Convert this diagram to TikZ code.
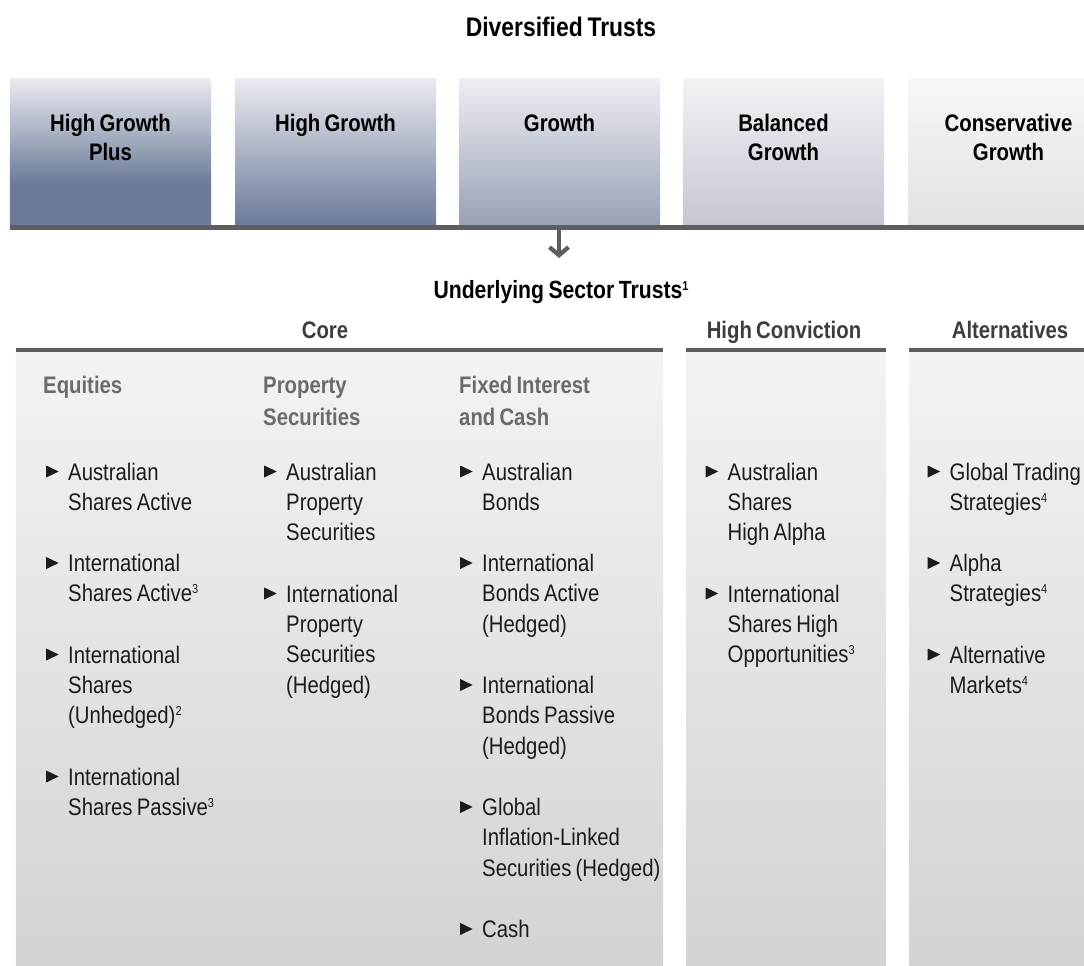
\documentclass[tikz,border=0pt]{standalone}
\usepackage{fontspec}
\setmainfont{Liberation Sans}[FakeStretch=0.85, WordSpace=0.75]
\usepackage{tikz}
\usetikzlibrary{arrows.meta}

\definecolor{slatedk}{HTML}{6B7B99}
\definecolor{slatelt}{HTML}{EBEBF0}
\definecolor{growthlo}{HTML}{98A1B6}
\definecolor{balancedlo}{HTML}{C4C7D2}
\definecolor{conslo}{HTML}{E1E2E6}
\definecolor{ledgegray}{HTML}{5E5E5E}
\definecolor{panelhi}{HTML}{F3F3F3}
\definecolor{panello}{HTML}{D3D3D3}
\definecolor{headgray}{HTML}{6B6B6B}
\definecolor{labelgray}{HTML}{3D3D3D}
\definecolor{itemink}{HTML}{1C1C1C}

\pgfdeclareverticalshading{plusshade}{100bp}{color(0bp)=(slatedk); color(39bp)=(slatedk); color(75bp)=(slatelt); color(100bp)=(slatelt)}

\newcommand{\itemmark}{\llap{\tikz[x=1bp,y=1bp,baseline=0pt]\fill[itemink] (0,2.5) -- (0,14.5) -- (12.5,8.5) -- cycle;\hspace{9.5bp}}}
\newcommand{\fnmark}[1]{\raisebox{8bp}{\fontsize{13}{13}\selectfont #1}}

\tikzset{
  trustbox/.style={rectangle, inner sep=0pt, minimum width=201bp, minimum height=147bp},
  trustlabel/.style={anchor=base, text width=200bp, align=flush center, inner sep=0pt, text=black, font=\bfseries\fontsize{24}{29.5}\selectfont},
  bigtitle/.style={anchor=base, inner sep=0pt, text=black, font=\bfseries\fontsize{27}{30}\selectfont},
  midtitle/.style={anchor=base, inner sep=0pt, text=black, font=\bfseries\fontsize{25}{30}\selectfont},
  sectorpanel/.style={rectangle, inner sep=0pt, minimum height=614bp, top color=panelhi, bottom color=panello},
  panelhead/.style={anchor=base, inner sep=0pt, text=labelgray, font=\bfseries\fontsize{24}{30}\selectfont},
  colhead/.style={anchor=base west, text width=200bp, align=flush left, inner sep=0pt, text=headgray, font=\bfseries\fontsize{24}{33}\selectfont},
  trustitem/.style={anchor=base west, text width=200bp, align=flush left, inner sep=0pt, text=itemink, font=\fontsize{24}{30.5}\selectfont},
  ledge/.style={fill=ledgegray},
  flow/.style={draw=ledgegray, line width=4.3bp, -{Straight Barb[length=8bp, width=19bp]}}
}

\begin{document}
\begin{tikzpicture}[x=1bp, y=-1bp]
\useasboundingbox (0,0) rectangle (1084,966);

\node[bigtitle] (div) at (561,36) {Diversified Trusts};

\node[trustbox, shading=plusshade] (hgp) at (110.5,151.5) {};
\node[trustbox, top color=slatelt, bottom color=slatedk] (hg) at (335.5,151.5) {};
\node[trustbox, top color=slatelt!80!white, bottom color=growthlo] (gr) at (559.5,151.5) {};
\node[trustbox, top color=slatelt!60!white, bottom color=balancedlo] (bg) at (783.5,151.5) {};
\node[trustbox, top color=slatelt!40!white, bottom color=conslo] (cg) at (1008.5,151.5) {};

\node[trustlabel] (hgpl) at (110.5,131) {High Growth\\Plus};
\node[trustlabel] (hgl) at (335.5,131) {High Growth};
\node[trustlabel] (grl) at (559.5,131) {Growth};
\node[trustlabel] (bgl) at (783.5,131) {Balanced\\Growth};
\node[trustlabel] (cgl) at (1008.5,131) {Conservative\\Growth};

\fill[ledge] (hgp.south west) rectangle ([yshift=-5bp]cg.south east);

\coordinate (drop) at (559,230);
\coordinate (landing) at (559,258);
\draw[flow] (drop) -- (landing);

\node[midtitle] (ust) at (561,298) {Underlying Sector Trusts\fnmark{1}};

\node[sectorpanel, minimum width=647bp] (core) at (339.5,659) {};
\node[sectorpanel, minimum width=200bp] (hc) at (786,659) {};
\node[sectorpanel, minimum width=200bp] (alt) at (1009,659) {};
\fill[ledge] ([yshift=4bp]core.north west) rectangle (core.north east);
\fill[ledge] ([yshift=4bp]hc.north west) rectangle (hc.north east);
\fill[ledge] ([yshift=4bp]alt.north west) rectangle (alt.north east);

\node[panelhead] (corel) at (325,338) {Core};
\node[panelhead] (hcl) at (784,338) {High Conviction};
\node[panelhead] (altl) at (1010,338) {Alternatives};

\node[colhead] (eqh) at (43,393) {Equities};
\node[colhead] (proph) at (263,393) {Property\\Securities};
\node[colhead] (fixh) at (459,393) {Fixed Interest\\and Cash};

\node[trustitem] (eq1) at (68,480) {\itemmark Australian\\Shares Active};
\node[trustitem] (eq2) at (68,571.5) {\itemmark International\\Shares Active\fnmark{3}};
\node[trustitem] (eq3) at (68,663) {\itemmark International\\Shares\\(Unhedged)\fnmark{2}};
\node[trustitem] (eq4) at (68,785) {\itemmark International\\Shares Passive\fnmark{3}};

\node[trustitem] (prop1) at (286,480) {\itemmark Australian\\Property\\Securities};
\node[trustitem] (prop2) at (286,602) {\itemmark International\\Property\\Securities\\(Hedged)};

\node[trustitem] (fix1) at (482,480) {\itemmark Australian\\Bonds};
\node[trustitem] (fix2) at (482,571.5) {\itemmark International\\Bonds Active\\(Hedged)};
\node[trustitem] (fix3) at (482,693.5) {\itemmark International\\Bonds Passive\\(Hedged)};
\node[trustitem] (fix4) at (482,815.5) {\itemmark Global\\Inflation-Linked\\Securities (Hedged)};
\node[trustitem] (fix5) at (482,937.5) {\itemmark Cash};

\node[trustitem] (hc1) at (727.5,480) {\itemmark Australian\\Shares\\High Alpha};
\node[trustitem] (hc2) at (727.5,602) {\itemmark International\\Shares High\\Opportunities\fnmark{3}};

\node[trustitem] (alt1) at (949.5,480) {\itemmark Global Trading\\Strategies\fnmark{4}};
\node[trustitem] (alt2) at (949.5,571.5) {\itemmark Alpha\\Strategies\fnmark{4}};
\node[trustitem] (alt3) at (949.5,663) {\itemmark Alternative\\Markets\fnmark{4}};

\end{tikzpicture}
\end{document}
